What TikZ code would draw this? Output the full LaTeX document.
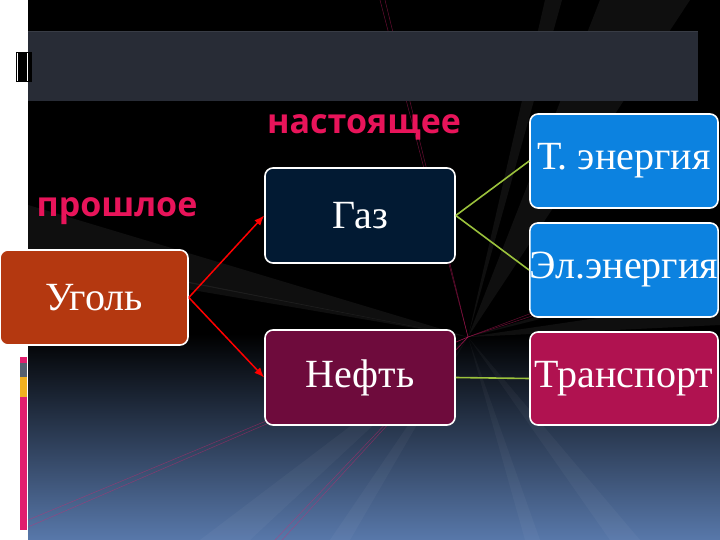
\documentclass[tikz,border=0pt]{standalone}
\usepackage{fontspec}
\setmainfont{Liberation Serif}
\newfontfamily\labfont{Open Sans}
\usetikzlibrary{arrows.meta}
\definecolor{coalc}{RGB}{180,56,16}
\definecolor{gasc}{RGB}{2,26,51}
\definecolor{oilc}{RGB}{110,11,60}
\definecolor{bluec}{RGB}{12,130,224}
\definecolor{transc}{RGB}{176,18,80}
\definecolor{pinkc}{RGB}{232,20,90}
\definecolor{greenc}{RGB}{155,194,60}
\definecolor{barc}{RGB}{40,44,54}
\definecolor{bottomc}{RGB}{88,120,170}
\definecolor{stripgray}{RGB}{85,96,112}
\definecolor{stripgold}{RGB}{240,176,32}
\definecolor{strippink}{RGB}{225,30,110}
\tikzset{
  box/.style={draw=white, line width=1.6pt, rounded corners=8pt, text=white,
    font=\fontsize{40}{46}\selectfont, inner sep=0pt},
  lab/.style={text=pinkc, font=\labfont\bfseries\fontsize{34}{38}\selectfont, inner sep=0pt},
  redarrow/.style={draw=red, line width=1.5pt, -{Latex[length=10pt,width=8pt]}},
  greenline/.style={draw=greenc, line width=1.6pt},
  ray/.style={fill=white, fill opacity=0.06, draw=none},
  lowray/.style={fill=white, fill opacity=0.035, draw=none},
  pinkray/.style={draw=strippink, line width=0.5pt, opacity=0.45}
}
\begin{document}
\begin{tikzpicture}[x=1pt,y=-1pt]
\useasboundingbox (0,0) rectangle (720,540);
% background
\fill[white] (0,0) rectangle (720,540);
\fill[black] (28,0) rectangle (720,335);
\shade[top color=black, bottom color=bottomc] (28,334) rectangle (720,540);
% rays
\coordinate (F) at (468,337);
\fill[ray] (F) -- (28,205) -- (28,252) -- cycle;
\fill[ray] (F) -- (28,250) -- (28,262) -- cycle;
\fill[ray] (F) -- (600,0) -- (690,0) -- cycle;
\fill[ray] (F) -- (545,0) -- (562,0) -- cycle;
\fill[lowray] (F) -- (640,540) -- (610,540) -- cycle;
\fill[lowray] (F) -- (540,540) -- (525,540) -- cycle;
\fill[lowray] (F) -- (200,540) -- (250,540) -- cycle;
\fill[ray] (F) -- (720,300) -- (720,325) -- cycle;
\fill[ray] (F) -- (720,262) -- (720,274) -- cycle;
\fill[lowray] (F) -- (350,540) -- (330,540) -- cycle;
\draw[pinkray] (380,0) -- (F) -- (28,520);
\draw[pinkray] (385,0) -- (F) -- (28,527);
\draw[pinkray] (F) -- (620,280);
\draw[pinkray] (F) -- (620,287);
\draw[pinkray] (F) -- (275,540);
\draw[pinkray] (F) -- (282,540);
% title bar
\fill[barc] (28,31) rectangle (698,101);
\draw[white, opacity=0.08, line width=1pt] (28,31.5) -- (698,31.5);
% small black block
\fill[black] (16,52) rectangle (32,82);
\draw[white, line width=0.7pt] (17,53) -- (17,81);
\draw[white, line width=0.5pt] (27,53) -- (27,81);
% left strip
\fill[strippink] (20,357) rectangle (27,363);
\fill[stripgray] (20,363) rectangle (27,377);
\fill[stripgold] (20,377) rectangle (27,397);
\fill[strippink] (20,397) rectangle (27,530);
% labels
\node[lab] (now) at (364,127) {настоящее};
\node[lab] (past) at (117,211) {прошлое};
% boxes
\node[box, fill=coalc, minimum width=188pt, minimum height=95pt] (coal) at (94,297.5) {Уголь};
\node[box, fill=gasc, minimum width=190pt, minimum height=95pt] (gas) at (360,215.5) {Газ};
\node[box, fill=oilc, minimum width=190pt, minimum height=95pt] (oil) at (360,377.5) {Нефть};
\node[box, fill=bluec, minimum width=188pt, minimum height=94pt] (heat) at (624,161) {Т. энергия};
\node[box, fill=bluec, minimum width=188pt, minimum height=94pt] (elec) at (624,270) {Эл.энергия};
\node[box, fill=transc, minimum width=188pt, minimum height=93pt] (trans) at (624,378.5) {Транспорт};
% connectors
\draw[redarrow] (coal.east) -- (gas.west);
\draw[redarrow] (coal.east) -- (oil.west);
\draw[greenline] (gas.east) -- (heat.west);
\draw[greenline] (gas.east) -- (elec.west);
\draw[greenline] (oil.east) -- (trans.west);
\end{tikzpicture}
\end{document}
